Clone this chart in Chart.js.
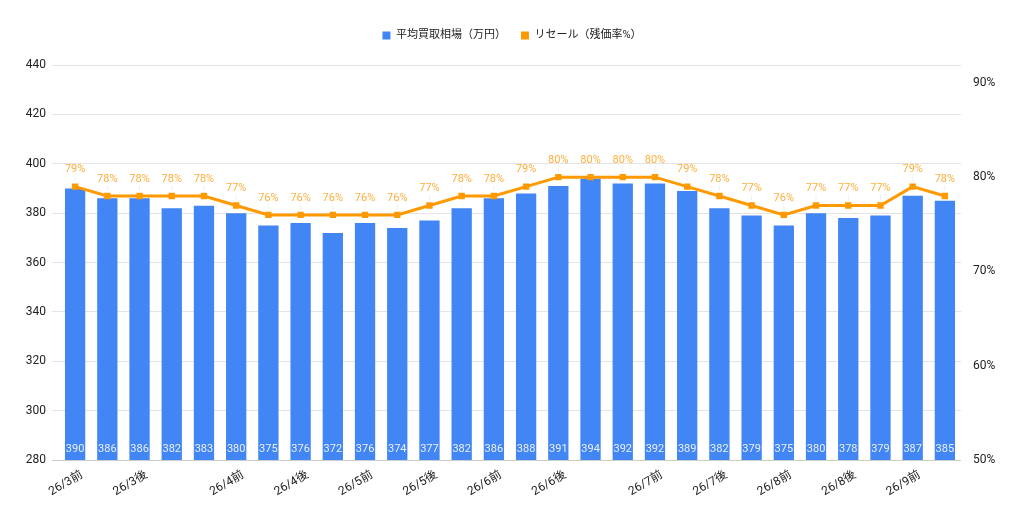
<!DOCTYPE html>
<html>
<head>
<meta charset="utf-8">
<script src="https://cdn.jsdelivr.net/npm/chart.js@4.4.1/dist/chart.umd.min.js"></script>
<style>
html,body{margin:0;padding:0;background:#fff;}
#wrap{width:1024px;height:517px;position:relative;}
</style>
</head>
<body>
<div id="wrap"><canvas id="c" width="1024" height="517"></canvas></div>
<script>
const categories = ['26/3前','','26/3後','','','26/4前','','26/4後','','26/5前','','26/5後','','26/6前','','26/6後','','','26/7前','','26/7後','','26/8前','','26/8後','','26/9前',''];
const priceValues = [390,386,386,382,383,380,375,376,372,376,374,377,382,386,388,391,394,392,392,389,382,379,375,380,378,379,387,385];
const resaleValues = [79,78,78,78,78,77,76,76,76,76,76,77,78,78,79,80,80,80,80,79,78,77,76,77,77,77,79,78];
const leftTicks = [280,300,320,340,360,380,400,420,440];
const rightTicks = [50,60,70,80,90];
const seriesNames = ['平均買取相場（万円）','リセール（残価率%）'];

const FONT = "Roboto, 'Noto Sans CJK JP', sans-serif";

const labelPlugin = {
  id: 'valueLabels',
  afterDatasetsDraw(chart) {
    const ctx = chart.ctx;
    const area = chart.chartArea;
    ctx.save();
    ctx.font = '11px ' + FONT;
    ctx.textAlign = 'center';
    ctx.textBaseline = 'middle';
    const barMeta = chart.getDatasetMeta(1);
    barMeta.data.forEach((el, i) => {
      ctx.fillStyle = 'rgba(255,255,255,0.88)';
      ctx.fillText(String(priceValues[i]), el.x, area.bottom - 11);
    });
    const lineMeta = chart.getDatasetMeta(0);
    lineMeta.data.forEach((el, i) => {
      ctx.strokeStyle = 'rgba(0,0,0,0.06)';
      ctx.lineWidth = 1;
      ctx.beginPath();
      ctx.moveTo(el.x, el.y - 11);
      ctx.lineTo(el.x, el.y - 5);
      ctx.stroke();
      ctx.fillStyle = '#ffae3a';
      ctx.fillText(resaleValues[i] + '%', el.x, el.y - 17);
    });
    ctx.restore();
  }
};

const legendHeightPlugin = {
  id: 'legendHeight',
  beforeInit(chart) {
    const lg = chart.legend;
    if (lg && !lg._patched) {
      const orig = lg.fit;
      lg.fit = function() { orig.call(this); this.height = 65 - 15; };
      lg._patched = true;
    }
  }
};

new Chart(document.getElementById('c'), {
  data: {
    labels: categories,
    datasets: [
      {
        type: 'line',
        label: seriesNames[1],
        data: resaleValues,
        yAxisID: 'yR',
        borderColor: '#ff9900',
        backgroundColor: '#ff9900',
        borderWidth: 3,
        pointStyle: 'rect',
        pointRadius: 4.5,
        pointBorderWidth: 0,
        pointBackgroundColor: '#ff9900',
        tension: 0,
        order: 0
      },
      {
        type: 'bar',
        label: seriesNames[0],
        data: priceValues,
        yAxisID: 'y',
        backgroundColor: '#4285f4',
        borderWidth: 0,
        categoryPercentage: 1,
        barPercentage: 0.63,
        order: 1
      }
    ]
  },
  options: {
    responsive: false,
    animation: false,
    devicePixelRatio: 1,
    layout: { padding: { top: 15, left: 0, right: 0, bottom: 0 } },
    plugins: {
      legend: {
        position: 'top',
        align: 'center',
        reverse: true,
        labels: {
          boxWidth: 8,
          boxHeight: 8,
          padding: 15,
          color: '#222',
          font: { size: 11, family: FONT },
          generateLabels(chart) {
            const items = Chart.defaults.plugins.legend.labels.generateLabels(chart);
            items.forEach(it => { it.lineWidth = 0; it.strokeStyle = 'rgba(0,0,0,0)'; });
            return items;
          }
        }
      },
      tooltip: { enabled: false }
    },
    scales: {
      x: {
        grid: { display: false, drawTicks: false },
        border: { display: false },
        ticks: {
          autoSkip: false,
          minRotation: 30,
          maxRotation: 30,
          color: '#222',
          padding: 8,
          labelOffset: 7,
          font: { size: 12, family: FONT }
        },
        afterFit(s) { s.height = 57; }
      },
      y: {
        position: 'left',
        min: 280,
        max: 440,
        grid: {
          color: (c) => c.tick && c.tick.value === 280 ? '#cccccc' : '#e4e4e4',
          drawTicks: true,
          tickLength: 7,
          lineWidth: 1
        },
        border: { display: false },
        ticks: {
          stepSize: 20,
          color: '#222',
          padding: 6,
          font: { size: 12, family: FONT }
        },
        afterBuildTicks(s) { s.ticks = leftTicks.map(v => ({ value: v })); },
        afterFit(s) { s.width = 59; }
      },
      yR: {
        position: 'right',
        min: 50,
        max: 91.9,
        grid: { display: false, drawTicks: false },
        border: { display: false },
        ticks: {
          color: '#222',
          padding: 12,
          font: { size: 12, family: FONT },
          callback: (v) => v + '%'
        },
        afterBuildTicks(s) { s.ticks = rightTicks.map(v => ({ value: v })); },
        afterFit(s) { s.width = 63; }
      }
    }
  },
  plugins: [legendHeightPlugin, labelPlugin]
});
</script>
</body>
</html>
